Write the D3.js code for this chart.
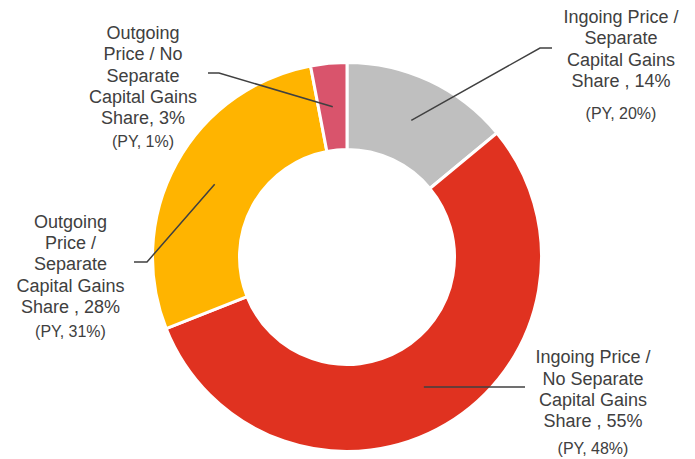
<!DOCTYPE html>
<html>
<head>
<meta charset="utf-8">
<script src="https://cdn.jsdelivr.net/npm/d3@7"></script>
<style>
  html, body { margin: 0; padding: 0; background: #fff; }
  text { font-family: "Liberation Sans", Arial, sans-serif; fill: #404040; }
</style>
</head>
<body>
<div id="chart"></div>
<script>
var categories = [
  ["Ingoing Price /", "Separate", "Capital Gains", "Share ,"],
  ["Ingoing Price /", "No Separate", "Capital Gains", "Share ,"],
  ["Outgoing", "Price /", "Separate", "Capital Gains", "Share ,"],
  ["Outgoing", "Price / No", "Separate", "Capital Gains", "Share,"]
];
var values = [14, 55, 28, 3];
var priorYear = [20, 48, 31, 1];
var colours = ["#bfbfbf", "#e03220", "#ffb400", "#d9546c"];

var width = 695, height = 459;
var cx = 347, cy = 257;
var outerR = 194.5, innerR = 107.5;

// label placement: text centre x, first baseline, PY baseline, leader elbow / end (relative to centre)
var layout = [
  { x: 621, y: 23, py: 119, elbow: [193, -209], endX: 205 },
  { x: 593, y: 363.3, py: 454, elbow: null, endX: 178 },
  { x: 70.5, y: 227.7, py: 336.7, elbow: [-200, 5], endX: -213 },
  { x: 143, y: 39, py: 146.7, elbow: [-128, -184], endX: -139 }
];
var lineGap = 21.3;

var svg = d3.select("#chart").append("svg")
  .attr("width", width)
  .attr("height", height);

var g = svg.append("g")
  .attr("transform", "translate(" + cx + "," + cy + ")");

var pie = d3.pie().sort(null).value(d => d)(values);
var arc = d3.arc().innerRadius(innerR).outerRadius(outerR);
var mid = d3.arc().innerRadius(151).outerRadius(151);

g.selectAll("path.slice")
  .data(pie)
  .enter()
  .append("path")
  .attr("class", "slice")
  .attr("d", arc)
  .attr("fill", (d, i) => colours[i])
  .attr("stroke", "#fff")
  .attr("stroke-width", 3);

// leader lines
g.selectAll("path.leader")
  .data(pie)
  .enter()
  .append("path")
  .attr("class", "leader")
  .attr("d", (d, i) => {
    var c = mid.centroid(d), L = layout[i];
    var p = d3.path();
    p.moveTo(c[0], c[1]);
    var y = c[1];
    if (L.elbow) { p.lineTo(L.elbow[0], L.elbow[1]); y = L.elbow[1]; }
    p.lineTo(L.endX, y);
    return p.toString();
  })
  .attr("fill", "none")
  .attr("stroke", "#404040")
  .attr("stroke-width", 1.5);

// labels
categories.forEach((lines, i) => {
  var L = layout[i];
  var t = svg.append("text")
    .attr("text-anchor", "middle")
    .attr("font-size", 18);
  lines.forEach((s, j) => {
    var txt = j === lines.length - 1 ? s + " " + values[i] + "%" : s;
    t.append("tspan")
      .attr("x", L.x)
      .attr("y", L.y + j * lineGap)
      .text(txt);
  });
  svg.append("text")
    .attr("text-anchor", "middle")
    .attr("font-size", 16)
    .attr("x", L.x)
    .attr("y", L.py)
    .text("(PY, " + priorYear[i] + "%)");
});
</script>
</body>
</html>
